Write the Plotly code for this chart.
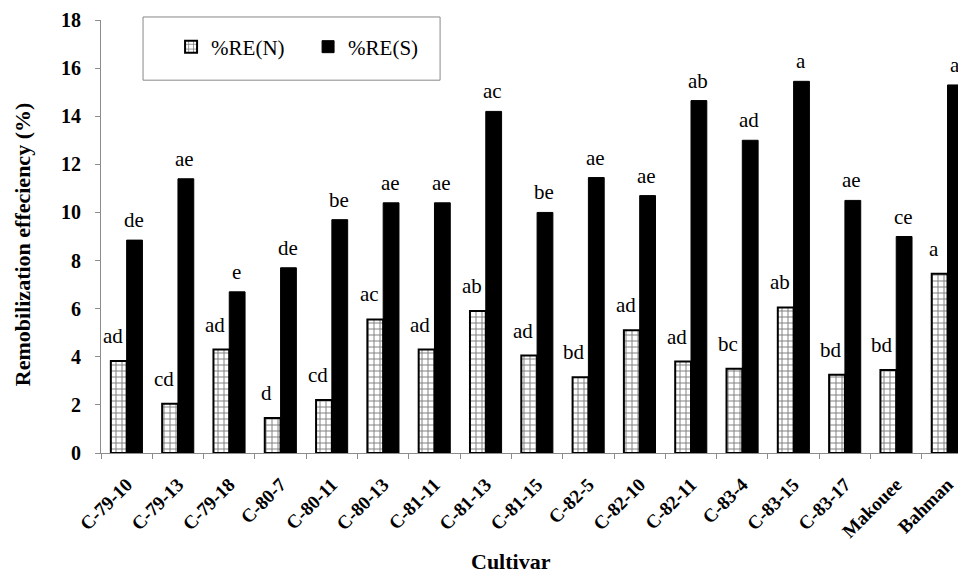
import plotly.graph_objects as go

cultivars = ["C-79-10", "C-79-13", "C-79-18", "C-80-7", "C-80-11", "C-80-13", "C-81-11",
             "C-81-13", "C-81-15", "C-82-5", "C-82-10", "C-82-11", "C-83-4", "C-83-15",
             "C-83-17", "Makouee", "Bahman"]
re_n = [3.82, 2.05, 4.3, 1.45, 2.2, 5.55, 4.3, 5.9, 4.05, 3.15, 5.1, 3.8, 3.5, 6.05, 3.25, 3.45, 7.45]
re_s = [8.85, 11.4, 6.7, 7.7, 9.7, 10.4, 10.4, 14.2, 10.0, 11.45, 10.7, 14.65, 13.0, 15.45, 10.5, 9.0, 15.3]
letters_n = ["ad", "cd", "ad", "d", "cd", "ac", "ad", "ab", "ad", "bd", "ad", "ad", "bc", "ab", "bd", "bd", "a"]
letters_s = ["de", "ae", "e", "de", "be", "ae", "ae", "ac", "be", "ae", "ae", "ab", "ad", "a", "ae", "ce", "a"]

FONT = "Liberation Serif, Times New Roman, serif"
AXIS_GRAY = "#8c8c8c"

fig = go.Figure()
fig.add_trace(go.Bar(
    name="%RE(N)", x=cultivars, y=re_n,
    marker=dict(color="white", line=dict(color="black", width=2),
                pattern=dict(shape="+", fgcolor="black", bgcolor="white", size=6, solidity=0.3)),
))
fig.add_trace(go.Bar(
    name="%RE(S)", x=cultivars, y=re_s,
    marker=dict(color="black", line=dict(color="black", width=1)),
))

annotations = []
for c, v, t in zip(cultivars, re_n, letters_n):
    annotations.append(dict(x=c, y=v, xref="x", yref="y", text=t, showarrow=False,
                            yanchor="bottom", xanchor="center", xshift=-14, yshift=11,
                            font=dict(family=FONT, size=21, color="black")))
for c, v, t in zip(cultivars, re_s, letters_s):
    annotations.append(dict(x=c, y=v, xref="x", yref="y", text=t, showarrow=False,
                            yanchor="bottom", xanchor="center", xshift=7, yshift=6,
                            font=dict(family=FONT, size=21, color="black")))
annotations.append(dict(text="<b>Cultivar</b>", xref="paper", yref="paper", x=0.474, y=0,
                        xanchor="center", yanchor="middle", yshift=-108, showarrow=False,
                        font=dict(family=FONT, size=22, color="black")))
annotations.append(dict(text="<b>Remobilization effeciency (%)</b>", xref="paper", yref="paper",
                        x=-0.0913, y=0.48, xanchor="center", yanchor="middle", textangle=-90,
                        showarrow=False, font=dict(family=FONT, size=22, color="black")))

fig.add_shape(type="rect", xref="paper", yref="paper",
              x0=0.0486, x1=0.392, y0=0.861, y1=1.007,
              line=dict(color="#888888", width=1), fillcolor="white", layer="below")

# page body has an 8px margin, so the figure is sized/offset to fill the 966x576 window
fig.update_layout(
    width=958, height=568,
    margin=dict(l=93, r=0, t=12, b=123, autoexpand=False),
    paper_bgcolor="white", plot_bgcolor="white",
    barmode="group", bargap=0.384, bargroupgap=0,
    font=dict(family=FONT, color="black"),
    showlegend=True,
    annotations=annotations,
    legend=dict(orientation="h", x=0.081, y=0.9376, xanchor="left", yanchor="middle",
                font=dict(family=FONT, size=21, color="black"),
                bgcolor="rgba(0,0,0,0)", itemwidth=30, traceorder="normal",
                entrywidth=92),
    xaxis=dict(range=[-0.5, 16.36], showline=True, linecolor=AXIS_GRAY, linewidth=1,
               ticks="outside", tickson="boundaries", ticklen=5, tickcolor=AXIS_GRAY,
               tickangle=-45, automargin=False, ticklabelstandoff=12,
               tickfont=dict(family=FONT, size=19, color="black", weight="bold"),
               showgrid=False),
    yaxis=dict(range=[0, 18], dtick=2, showline=True, linecolor=AXIS_GRAY, linewidth=1,
               ticks="outside", ticklen=5, tickcolor=AXIS_GRAY, automargin=False,
               ticklabelstandoff=10,
               tickfont=dict(family=FONT, size=20, color="black", weight="bold"),
               showgrid=False, zeroline=False),
)

fig.write_html("out.html")
